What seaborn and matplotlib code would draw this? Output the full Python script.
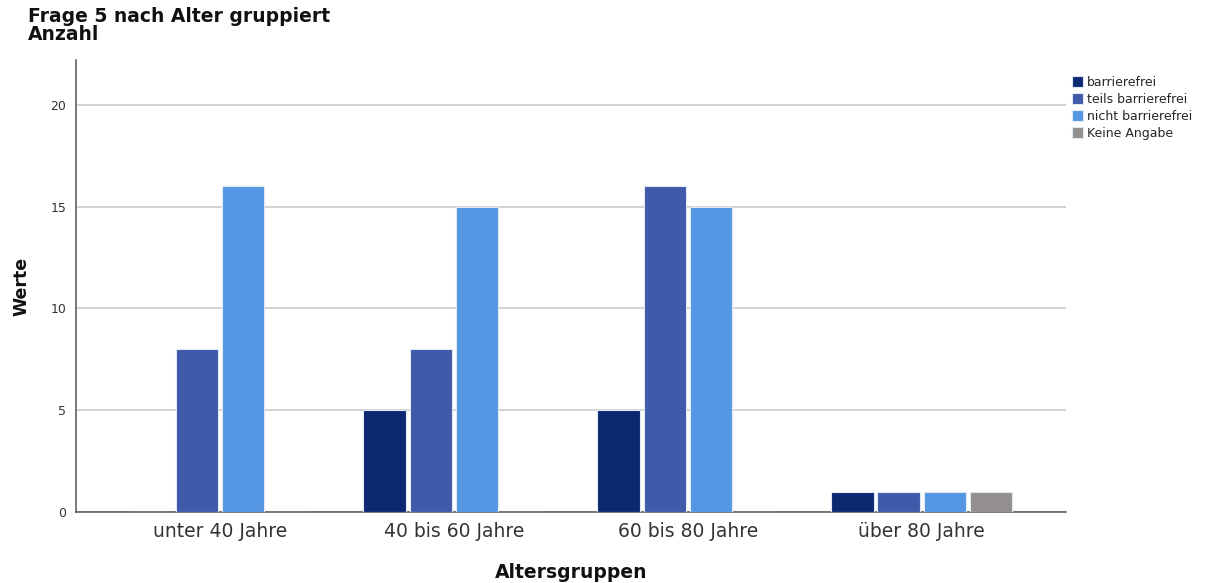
import pandas as pd
import matplotlib.pyplot as plt
import seaborn as sns

# Werte
altersgruppen = ['unter 40 Jahre', '40 bis 60 Jahre', '60 bis 80 Jahre', 'über 80 Jahre']
antworten = ['barrierefrei', 'teils barrierefrei', 'nicht barrierefrei', 'Keine Angabe']
barrierefrei = [0, 5, 5, 1]
teils_barrierefrei = [8, 8, 16, 1]
nicht_barrierefrei = [16, 15, 15, 1]
keine_angabe = [0, 0, 0, 1]
farben = ['#0b2871', '#3e5aa8', '#5597e3', '#948f8f']

serien = [barrierefrei, teils_barrierefrei, nicht_barrierefrei, keine_angabe]
rows = []
for antwort, werte in zip(antworten, serien):
    for gruppe, wert in zip(altersgruppen, werte):
        rows.append({'Altersgruppe': gruppe, 'Antwort': antwort, 'Anzahl': wert})
df = pd.DataFrame(rows)

sns.set_style('white')
plt.rcParams['font.family'] = ['DejaVu Sans']

fig = plt.figure(figsize=(12.1, 5.83), dpi=100)
ax = fig.add_axes([0.0628, 0.1218, 0.818, 0.775])

sns.barplot(data=df, x='Altersgruppe', y='Anzahl', hue='Antwort',
            order=altersgruppen, hue_order=antworten, palette=farben,
            saturation=1, width=0.79, gap=0.08, edgecolor='#dfe8f5',
            linewidth=0.8, ax=ax, zorder=3)

ax.set_xlim(-0.615, 3.615)
ax.set_ylim(0, 22.2)
ax.set_yticks([0, 5, 10, 15, 20])
ax.yaxis.grid(True, color='#c8c8c8', linewidth=1.1, zorder=0)
ax.set_axisbelow(True)
for s in ['top', 'right']:
    ax.spines[s].set_visible(False)
for s in ['left', 'bottom']:
    ax.spines[s].set_color('#555555')
    ax.spines[s].set_linewidth(1.1)
ax.tick_params(axis='both', length=0)
ax.tick_params(axis='x', labelsize=13.5, labelcolor='#333333', pad=7)
ax.tick_params(axis='y', labelsize=9, labelcolor='#333333', pad=7)

ax.set_xlabel('Altersgruppen', fontsize=13.5, fontweight='bold', labelpad=16,
              color='#111111')
ax.set_ylabel('Werte', fontsize=12.5, fontweight='bold', labelpad=14,
              color='#111111')

fig.text(0.023, 0.988, 'Frage 5 nach Alter gruppiert\nAnzahl', fontsize=13.5,
         fontweight='bold', va='top', ha='left', linespacing=0.95,
         color='#111111')

ax.legend(loc='upper left', bbox_to_anchor=(0.997, 0.985), frameon=False,
          fontsize=9, handlelength=0.95, handleheight=0.95, handletextpad=0.3,
          labelspacing=0.33, borderaxespad=0.3)

fig.savefig('out.png', dpi=100)
